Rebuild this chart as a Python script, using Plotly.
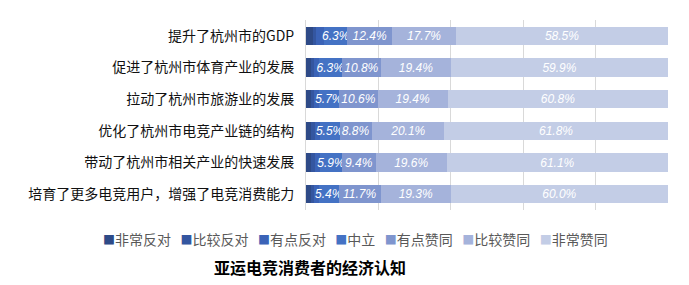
import plotly.graph_objects as go

categories = [
    "提升了杭州市的GDP",
    "促进了杭州市体育产业的发展",
    "拉动了杭州市旅游业的发展",
    "优化了杭州市电竞产业链的结构",
    "带动了杭州市相关产业的快速发展",
    "培育了更多电竞用户，增强了电竞消费能力",
]
series_names = ["非常反对", "比较反对", "有点反对", "中立", "有点赞同", "比较赞同", "非常赞同"]
strongly_oppose = [1.9, 1.4, 1.3, 1.4, 1.5, 1.4]
fairly_oppose = [0.9, 0.9, 0.9, 1.0, 1.0, 0.9]
slightly_oppose = [2.3, 1.3, 1.3, 1.4, 1.5, 1.3]
neutral = [6.3, 6.3, 5.7, 5.5, 5.9, 5.4]
slightly_agree = [12.4, 10.8, 10.6, 8.8, 9.4, 11.7]
fairly_agree = [17.7, 19.4, 19.4, 20.1, 19.6, 19.3]
strongly_agree = [58.5, 59.9, 60.8, 61.8, 61.1, 60.0]
series_values = [strongly_oppose, fairly_oppose, slightly_oppose, neutral,
                 slightly_agree, fairly_agree, strongly_agree]
labelled = [False, False, False, True, True, True, True]
colors = ["#2E4A87", "#3456A0", "#3B63B7", "#4472C4", "#7F95CE", "#A5B3DB", "#C3CDE6"]
x_ticks = [0, 20, 40, 60, 80, 100]
title_text = "亚运电竞消费者的经济认知"

fig = go.Figure()
for name, vals, col, lab in zip(series_names, series_values, colors, labelled):
    fig.add_trace(go.Bar(
        y=categories, x=vals, name=name, orientation="h",
        marker=dict(color=col, line=dict(width=0)),
        text=[f"{v:.1f}%" for v in vals] if lab else None,
        textposition="inside" if lab else "none",
        insidetextanchor="middle",
        textangle=0,
        textfont=dict(family="Liberation Sans", size=12, color="white", style="italic"),
        showlegend=False,
        hoverinfo="x+name",
    ))

legend_parts = []
for name, col in zip(series_names, colors):
    legend_parts.append(
        f"<span style='color:{col};font-size:12px'>■</span>{name}"
    )
legend_text = "   ".join(legend_parts)

fig.update_layout(
    width=689, height=285,
    margin=dict(l=306, r=21, t=20, b=75),
    barmode="stack",
    bargap=0.43,
    plot_bgcolor="white",
    paper_bgcolor="white",
    font=dict(family="Noto Sans CJK SC", color="#000000"),
    uniformtext=dict(mode="show", minsize=12),
    xaxis=dict(
        range=[0, 100], tickvals=x_ticks, showticklabels=False,
        showgrid=True, gridcolor="#D9D9D9", gridwidth=1,
        zeroline=False, showline=False, fixedrange=True,
    ),
    yaxis=dict(
        autorange="reversed", showgrid=False,
        showline=True, linecolor="#D9D9D9", linewidth=1,
        ticks="", ticklabelstandoff=8,
        tickfont=dict(family="Noto Sans CJK SC", size=14, color="#111111"),
    ),
    annotations=[
        dict(text=legend_text, xref="paper", yref="paper",
             x=(355 - 306) / 362, y=-0.155, xanchor="center", yanchor="middle",
             showarrow=False,
             font=dict(family="Noto Sans CJK SC", size=14, color="#595959")),
        dict(text=f"<b>{title_text}</b>", xref="paper", yref="paper",
             x=(310 - 306) / 362, y=-0.30, xanchor="center", yanchor="middle",
             showarrow=False,
             font=dict(family="Noto Sans CJK SC", size=16, color="#000000")),
    ],
)

fig.write_html("out.html")
